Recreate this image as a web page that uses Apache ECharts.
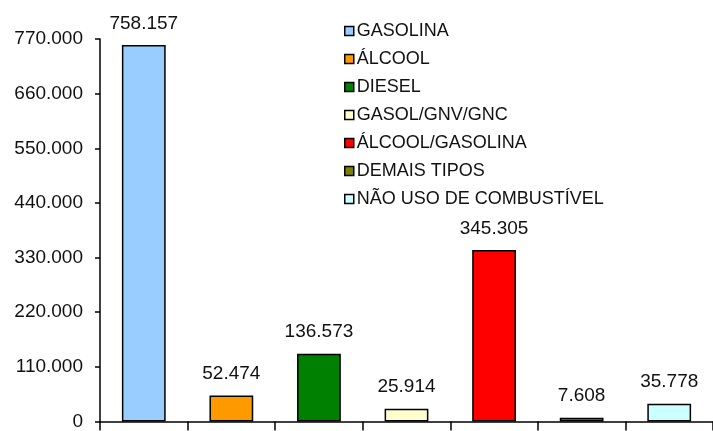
<!DOCTYPE html>
<html>
<head>
    <meta charset="utf-8">
    <title>Frota por combustível</title>
    <script src="https://cdn.jsdelivr.net/npm/echarts@6.0.0/dist/echarts.min.js"></script>
    <style>
        html, body { margin: 0; padding: 0; background: #fff; }
        #chart { width: 713px; height: 431px; }
    </style>
</head>
<body>
    <div id="chart"></div>

    <script>
        // dados
        const categorias = ['GASOLINA', 'ÁLCOOL', 'DIESEL', 'GASOL/GNV/GNC', 'ÁLCOOL/GASOLINA', 'DEMAIS TIPOS', 'NÃO USO DE COMBUSTÍVEL'];
        const valores = [758157, 52474, 136573, 25914, 345305, 7608, 35778];
        const cores = ['#99CCFF', '#FF9900', '#008000', '#FFFFCC', '#FF0000', '#808000', '#CCFFFF'];
        const eixoMax = 770000;
        const eixoPasso = 110000;

        // separador de milhar com ponto
        function fmt(v) {
            return String(v).replace(/\B(?=(\d{3})+(?!\d))/g, '.');
        }

        const fonte = 'Liberation Sans, Arial, sans-serif';

        // uma série por categoria, empilhadas para ocupar a mesma posição
        const series = categorias.map((nome, i) => ({
            name: nome,
            type: 'bar',
            stack: 'total',
            barWidth: '50%',
            data: valores.map((v, j) => (j === i ? v : '-')),
            itemStyle: { color: cores[i], borderColor: '#000', borderWidth: 1.5 },
            label: {
                show: true,
                position: 'top',
                distance: 12,
                formatter: p => fmt(p.value),
                color: '#111',
                fontFamily: fonte,
                fontSize: 19
            }
        }));

        const chart = echarts.init(document.getElementById('chart'));
        chart.setOption({
            animation: false,
            legend: {
                orient: 'vertical',
                left: 339,
                top: 17,
                itemWidth: 9,
                itemHeight: 9,
                itemGap: 10,
                icon: 'rect',
                itemStyle: { borderColor: '#000', borderWidth: 1.5 },
                textStyle: { color: '#111', fontFamily: fonte, fontSize: 18, padding: [0, 0, 0, -2] },
                data: categorias
            },
            grid: { left: 100, top: 39, width: 616, bottom: 9 },
            xAxis: {
                type: 'category',
                data: categorias,
                axisLine: { lineStyle: { color: '#000', width: 1.5 } },
                axisTick: { show: true, interval: 0, length: 9, lineStyle: { color: '#000', width: 1.5 } },
                axisLabel: { show: false, interval: 0 }
            },
            yAxis: {
                type: 'value',
                min: 0,
                max: eixoMax,
                interval: eixoPasso,
                splitLine: { show: false },
                axisLine: { show: true, lineStyle: { color: '#000', width: 1.5 } },
                axisTick: { show: true, length: 5, lineStyle: { color: '#000', width: 1.5 } },
                axisLabel: {
                    formatter: v => fmt(v),
                    color: '#111',
                    fontFamily: fonte,
                    fontSize: 19,
                    margin: 17
                }
            },
            series: series
        });
    </script>
</body>
</html>
